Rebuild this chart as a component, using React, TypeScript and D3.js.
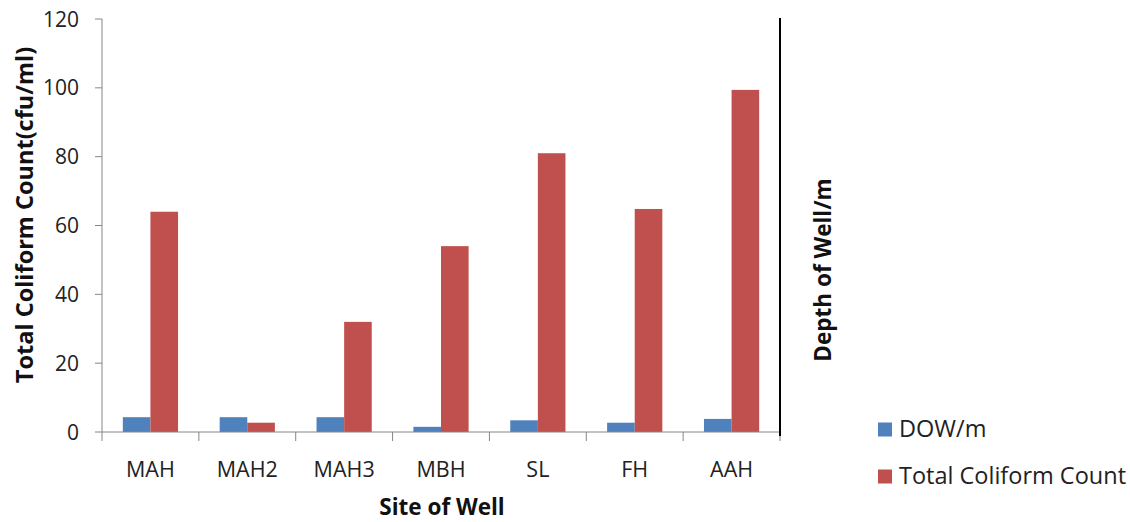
import React from "react";
import * as d3 from "d3";

const sites = ["MAH", "MAH2", "MAH3", "MBH", "SL", "FH", "AAH"];
const depthOfWell = [4.3, 4.3, 4.3, 1.5, 3.4, 2.7, 3.8];
const totalColiform = [64, 2.7, 32, 54, 81, 64.8, 99.4];
const yTicks = [0, 20, 40, 60, 80, 100, 120];

const seriesNames = ["DOW/m", "Total Coliform Count"];
const seriesColors = ["#4F81BD", "#C0504D"];

const W = 1130;
const H = 522;
const left = 102;
const right = 780;
const top = 19;
const bottom = 432;
const FONT = "'Open Sans', 'Liberation Sans', sans-serif";

export default function App() {
  const x = d3.scaleBand<string>().domain(sites).range([left, right]);
  const y = d3.scaleLinear().domain([0, 120]).range([bottom, top]);
  const bw = x.bandwidth();
  const barW = bw * 0.285;
  const inset = (bw - 2 * barW) / 2;
  const series = [depthOfWell, totalColiform];

  return (
    <svg width={W} height={H} style={{ position: "absolute", left: 0, top: 0, background: "#fff" }}>
      {/* bars */}
      {sites.map((s, i) =>
        series.map((vals, k) => (
          <rect
            key={s + k}
            x={(x(s) as number) + inset + k * barW}
            y={y(vals[i])}
            width={barW}
            height={bottom - y(vals[i])}
            fill={seriesColors[k]}
          />
        ))
      )}
      {/* left axis */}
      <line x1={left} x2={left} y1={top} y2={bottom} stroke="#868686" strokeWidth={1} />
      {yTicks.map((t) => (
        <g key={t}>
          <line x1={left - 7} x2={left} y1={y(t)} y2={y(t)} stroke="#868686" />
          <text x={79} y={y(t)} dy="0.36em" textAnchor="end" fontFamily={FONT} fontSize={21} fill="#222">
            {t}
          </text>
        </g>
      ))}
      {/* bottom axis */}
      <line x1={left} x2={right} y1={bottom} y2={bottom} stroke="#868686" />
      {d3.range(sites.length + 1).map((i) => {
        const xx = left + i * bw;
        return <line key={i} x1={xx} x2={xx} y1={bottom} y2={bottom + 9} stroke="#868686" />;
      })}
      {sites.map((s) => (
        <text
          key={s}
          x={(x(s) as number) + bw / 2}
          y={469}
          dy="0.36em"
          textAnchor="middle"
          fontFamily={FONT}
          fontSize={21.5}
          fill="#222"
        >
          {s}
        </text>
      ))}
      {/* right axis */}
      <line x1={right} x2={right} y1={18} y2={bottom + 4} stroke="#000" strokeWidth={2} />
      {/* titles */}
      <text x={442} y={507} dy="0.36em" textAnchor="middle" fontFamily={FONT} fontWeight="bold" fontSize={22.5} fill="#111">
        Site of Well
      </text>
      <text
        transform={`translate(25, 215) rotate(-90)`}
        dy="0.36em"
        textAnchor="middle"
        fontFamily={FONT}
        fontWeight="bold"
        fontSize={23.5}
        fill="#111"
      >
        Total Coliform Count(cfu/ml)
      </text>
      <text
        transform={`translate(823, 270) rotate(-90)`}
        dy="0.36em"
        textAnchor="middle"
        fontFamily={FONT}
        fontWeight="bold"
        fontSize={22.5}
        fill="#111"
      >
        Depth of Well/m
      </text>
      {/* legend */}
      {seriesNames.map((n, k) => (
        <g key={n} transform={`translate(878, ${429 + k * 47})`}>
          <rect x={0} y={-6.5} width={14} height={14} fill={seriesColors[k]} />
          <text x={21} y={0} dy="0.36em" fontFamily={FONT} fontSize={23.5} fill="#222">
            {n}
          </text>
        </g>
      ))}
    </svg>
  );
}
